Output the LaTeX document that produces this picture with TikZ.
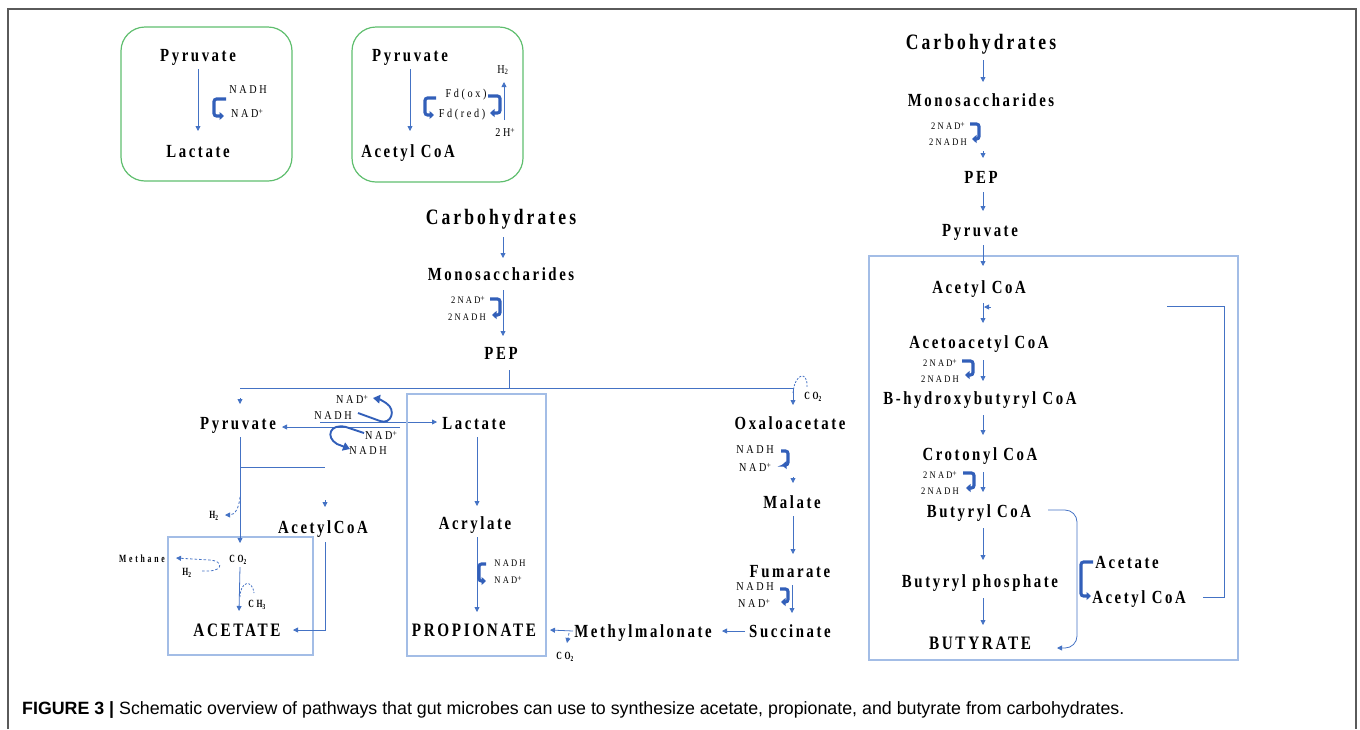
\documentclass[tikz,border=0pt]{standalone}
\usepackage{fontspec}
\usetikzlibrary{arrows.meta,calc}
\newfontfamily\labf[FakeStretch=0.8,LetterSpace=14]{Liberation Serif}
\newfontfamily\smf[FakeStretch=0.85,LetterSpace=22]{Liberation Serif}
\newfontfamily\tnf[FakeStretch=0.7,LetterSpace=25]{Liberation Serif}
\newfontfamily\capf{Liberation Sans}
\definecolor{blu}{RGB}{68,114,196}
\definecolor{dblu}{RGB}{50,95,185}
\definecolor{boxb}{RGB}{163,189,230}
\definecolor{grn}{RGB}{95,190,110}
\definecolor{frm}{RGB}{90,90,90}
\newcommand{\sps}[1]{\raisebox{0.45ex}{\fontsize{9}{9}\selectfont #1}}
\begin{document}
\begin{tikzpicture}[x=1pt,y=-1pt,
  lbl/.style={inner sep=0pt, text depth=0pt},
  big/.style={lbl, font=\labf\bfseries\fontsize{22}{24}\selectfont, text height=14.5pt},
  lab/.style={lbl, font=\labf\bfseries\fontsize{18.5}{20}\selectfont, text height=12.2pt},
  fin/.style={lbl, font=\labf\bfseries\fontsize{19}{21}\selectfont, text height=12.6pt},
  sm/.style={lbl, font=\smf\fontsize{12}{13}\selectfont, text height=8pt},
  xs/.style={lbl, font=\smf\fontsize{10}{11}\selectfont, text height=6.6pt},
  tn/.style={lbl, font=\tnf\bfseries\fontsize{11}{12}\selectfont, text height=7.3pt},
  ln/.style={draw=blu, line width=0.8pt},
  arr/.style={ln, -{Triangle[length=5pt,width=5pt]}},
  darr/.style={arr, dash pattern=on 2.5pt off 2pt},
  brk/.style={draw=dblu, line width=3.1pt, rounded corners=2.5pt, -{Triangle[length=4.5pt,width=8pt]}},
  cbrk/.style={draw=dblu, line width=1.9pt, -{Triangle[length=7pt,width=8.5pt]}},
  pbox/.style={draw=boxb, line width=2.8pt},
  gbox/.style={draw=grn, line width=1.2pt, rounded corners=24pt}]
\useasboundingbox (0,0) rectangle (1360,729);
\draw[frm, line width=1.5pt] (8,729) -- (8,9) -- (1356,9) -- (1356,729);

% ---------- box A ----------
\draw[gbox] (121,27) rectangle (292,181);
\node[lab] (pyrA) at (198,55) {Pyruvate};
\node[lab] (lacA) at (198,151) {Lactate};
\draw[arr] ($(pyrA)+(0,14)$) -- ($(lacA)+(0,-20)$);
\node[sm] (nadhA) at (248,89) {NADH};
\node[sm] (nadA) at (247,113) {NAD\sps{+}};
\draw[brk] ($(nadhA)+(-22,10)$) -- ++(-12,0) -- ++(0,17) -- ++(10,0);

% ---------- box B ----------
\draw[gbox] (352,27) rectangle (523,182);
\node[lab] (pyrB) at (410,55) {Pyruvate};
\node[lab] (acB) at (408,151) {Acetyl CoA};
\draw[arr] ($(pyrB)+(0,14)$) -- ($(acB)+(2,-20)$);
\node[sm] (fdox) at (466,93) {Fd(ox)};
\node[sm] (fdred) at (462,113) {Fd(red)};
\draw[brk] ($(fdox)+(-30,5)$) -- ++(-11,0) -- ++(0,17) -- ++(9,0);
\draw[brk] ($(fdox)+(22,3)$) -- ++(12,0) -- ++(0,17) -- ++(-10,0);
\node[sm] (h2B) at (503,69) {H\textsubscript{2}};
\node[sm] (hp) at (505,132) {2H\sps{+}};
\draw[arr] ($(hp)+(-1,-12)$) -- ($(h2B)+(1,13)$);

% ---------- middle column ----------
\node[big] (carbM) at (501,217) {Carbohydrates};
\node[lab] (monoM) at (501,274) {Monosaccharides};
\node[lab] (pepM) at (501,353) {PEP};
\draw[arr] ($(carbM)+(2,20)$) -- ($(monoM)+(2,-16)$);
\draw[arr] ($(monoM)+(2,16)$) -- ($(pepM)+(2,-17)$);
\node[xs] (nad2M) at (468,300) {2NAD\sps{+}};
\node[xs] (nadh2M) at (467,317) {2NADH};
\draw[brk] ($(nad2M)+(22,-1)$) -- ++(10,0) -- ++(0,16) -- ++(-8,0);
\draw[ln] ($(pepM)+(8,17)$) -- ($(pepM)+(8,35)$);

% ---------- left branch ----------
\node[lab] (pyrL) at (238,423) {Pyruvate};
\node[lab] (lacM) at (474,423) {Lactate};
\node[lab] (oxalo) at (790,423) {Oxaloacetate};
\draw[ln] ($(pyrL)+(2,-35)$) -- ($(oxalo)+(3,-35)$);
\draw[arr] ($(pyrL)+(2,-25)$) -- ($(pyrL)+(2,-19)$);
\draw[arr] ($(pyrL)+(82,-1)$) -- ($(lacM)+(-37,-1)$);
\draw[arr] ($(lacM)+(-74,4)$) -- ($(pyrL)+(44,4)$);
\node[sm] (nadU) at (352,399) {NAD\sps{+}};
\node[sm] (nadhU) at (333,415) {NADH};
\node[sm] (nadL) at (381,435) {NAD\sps{+}};
\node[sm] (nadhL) at (368,450) {NADH};
\draw[cbrk] ($(nadhU)+(25,-2)$) -- (380,421) .. controls (391,425) and (397,410) .. (386,403) .. controls (383,401) and (379,399) .. ($(nadU)+(21,-1)$);
\draw[cbrk] ($(nadL)+(-17,-2)$) -- (346,427) .. controls (330,423) and (325,437) .. (337,444) -- ($(nadhL)+(-18,-1)$);

% acetate part
\draw[pbox] (168,537) rectangle (313,655);
\node[lab] (acCoA) at (323,527) {AcetylCoA};
\node[tn] (h2L) at (214,515) {H\textsubscript{2}};
\node[tn] (methane) at (142,559) {Methane};
\node[tn] (h2A) at (187,572) {H\textsubscript{2}};
\node[tn] (co2A) at (238,559) {CO\textsubscript{2}};
\node[tn] (ch3) at (257,604) {CH\textsubscript{3}};
\node[fin] (acet) at (237,630) {ACETATE};
\draw[arr] ($(pyrL)+(2,14)$) -- ($(co2A)+(2,-16)$);
\draw[ln] ($(pyrL)+(2,44)$) -- ($(acCoA)+(2,-60)$);
\draw[arr] ($(acCoA)+(2,-27)$) -- ($(acCoA)+(2,-20)$);
\draw[darr] ($(pyrL)+(2,74)$) .. controls (239,508) and (235,515) .. ($(h2L)+(11,0)$);
\draw[darr] ($(h2A)+(15,-1)$) -- (210,571) .. controls (223,570) and (223,561) .. (210,560) -- ($(methane)+(34,-1)$);
\draw[ln, dash pattern=on 2pt off 1.5pt] ($(ch3)+(-17,-7)$) .. controls (240,582) and (252,578) .. ($(ch3)+(-3,-11)$);
\draw[arr] ($(co2A)+(2,8)$) -- ($(acet)+(2,-19)$);
\draw[arr] ($(acCoA)+(2,15)$) |- ($(acet)+(56,0)$);

% propionate part
\draw[pbox] (407,394) rectangle (546,656);
\node[lab] (acry) at (475,523) {Acrylate};
\node[fin] (prop) at (474,630) {PROPIONATE};
\draw[arr] ($(lacM)+(3,14)$) -- ($(acry)+(2,-17)$);
\draw[arr] ($(acry)+(2,14)$) -- ($(prop)+(3,-18)$);
\node[xs] (nadhP) at (510,563) {NADH};
\node[xs] (nadP) at (508,580) {NAD\sps{+}};
\draw[brk] ($(nadhP)+(-24,1)$) -- ++(-7,0) -- ++(0,17) -- ++(7,0);

% succinate pathway
\node[lab] (meth) at (643,631) {Methylmalonate};
\node[lab] (succ) at (790,631) {Succinate};
\node[lab] (fum) at (790,571) {Fumarate};
\node[lab] (malate) at (792,502) {Malate};
\node[tn] (co2P) at (565,656) {CO\textsubscript{2}};
\node[tn] (co2O) at (813,396) {CO\textsubscript{2}};
\draw[arr] ($(succ)+(-45,0)$) -- ($(meth)+(79,0)$);
\draw[arr] ($(meth)+(-70,0)$) -- ($(prop)+(76,0)$);
\draw[darr] ($(co2P)+(4,-23)$) -- ($(co2P)+(2,-13)$);
\draw[arr] ($(fum)+(2,14)$) -- ($(succ)+(2,-18)$);
\draw[arr] ($(malate)+(1,14)$) -- ($(fum)+(3,-17)$);
\draw[arr] ($(malate)+(1,-25)$) -- ($(malate)+(1,-19)$);
\draw[arr] ($(oxalo)+(3,-35)$) -- ($(oxalo)+(3,-18)$);
\draw[ln, dash pattern=on 2pt off 1.5pt] ($(oxalo)+(3,-30)$) .. controls (795,372) and (808,371) .. ($(co2O)+(-6,-9)$);
\node[sm] (nadhO) at (755,449) {NADH};
\node[sm] (nadO) at (755,467) {NAD\sps{+}};
\draw[brk] ($(nadhO)+(26,2)$) -- ++(7,0) -- ++(0,14) -- ++(-6,0);
\node[sm] (nadhF) at (755,586) {NADH};
\node[sm] (nadF) at (754,603) {NAD\sps{+}};
\draw[brk] ($(nadhF)+(25,3)$) -- ++(8,0) -- ++(0,13) -- ++(-7,0);

% ---------- right column ----------
\draw[pbox] (869,256) rectangle (1238,660);
\node[big] (carbR) at (981,42) {Carbohydrates};
\node[lab] (monoR) at (981,100) {Monosaccharides};
\node[lab] (pepR) at (981,177) {PEP};
\node[lab] (pyrR) at (980,230) {Pyruvate};
\node[lab] (acR) at (979,287) {Acetyl CoA};
\node[lab] (acacR) at (979,342) {Acetoacetyl CoA};
\node[lab] (bhb) at (980,398) {B-hydroxybutyryl CoA};
\node[lab] (croton) at (980,454) {Crotonyl CoA};
\node[lab] (butCoA) at (979,511) {Butyryl CoA};
\node[lab] (butP) at (980,581) {Butyryl phosphate};
\node[fin] (butR) at (980,643) {BUTYRATE};
\node[lab] (acet2) at (1127,562) {Acetate};
\node[lab] (acR2) at (1139,597) {Acetyl CoA};
\node[xs] (nad2R) at (948,126) {2NAD\sps{+}};
\node[xs] (nadh2R) at (948,142) {2NADH};
\node[xs] (nad2R2) at (940,363) {2NAD\sps{+}};
\node[xs] (nadh2R2) at (940,379) {2NADH};
\node[xs] (nad2R3) at (940,475) {2NAD\sps{+}};
\node[xs] (nadh2R3) at (940,491) {2NADH};
\draw[brk] ($(nad2R)+(22,-2)$) -- ++(9,0) -- ++(0,15) -- ++(-7,0);
\draw[brk] ($(nad2R2)+(22,-2)$) -- ++(11,0) -- ++(0,14) -- ++(-8,0);
\draw[brk] ($(nad2R3)+(23,-2)$) -- ++(11,0) -- ++(0,15) -- ++(-8,0);
\draw[arr] ($(carbR)+(2,18)$) -- ($(monoR)+(2,-18)$);
\draw[arr] ($(pepR)+(2,-26)$) -- ($(pepR)+(2,-19)$);
\draw[arr] ($(pepR)+(2,15)$) -- ($(pyrR)+(3,-19)$);
\draw[arr] ($(pyrR)+(3,15)$) -- ($(acR)+(4,-21)$);
\draw[arr] ($(acR)+(4,16)$) -- ($(acacR)+(4,-19)$);
\draw[arr] ($(acR)+(12,20)$) -- ($(acR)+(5,20)$);
\draw[arr] ($(acacR)+(4,18)$) -- ($(bhb)+(3,-17)$);
\draw[arr] ($(bhb)+(3,17)$) -- ($(croton)+(3,-19)$);
\draw[arr] ($(croton)+(3,18)$) -- ($(butCoA)+(4,-19)$);
\draw[arr] ($(butCoA)+(4,17)$) -- ($(butP)+(3,-21)$);
\draw[arr] ($(butP)+(3,17)$) -- ($(butR)+(3,-18)$);
\draw[arr, rounded corners=12pt] ($(butCoA)+(69,-1)$) -- (1077,510) -- (1077,648) -- ($(butR)+(77,5)$);
\draw[brk] ($(acet2)+(-34,0)$) -- ++(-12,0) -- ++(0,34) -- ++(10,0);
\draw[ln] ($(acR2)+(64,0)$) -- ++(21,0) |- ($(acR)+(188,19)$);

% ---------- caption ----------
\node[anchor=west, inner sep=0pt, font=\capf\fontsize{17.8}{19}\selectfont] (cap) at (22,710)
  {\textbf{FIGURE 3 |} Schematic overview of pathways that gut microbes can use to synthesize acetate, propionate, and butyrate from carbohydrates.};
\end{tikzpicture}
\end{document}
